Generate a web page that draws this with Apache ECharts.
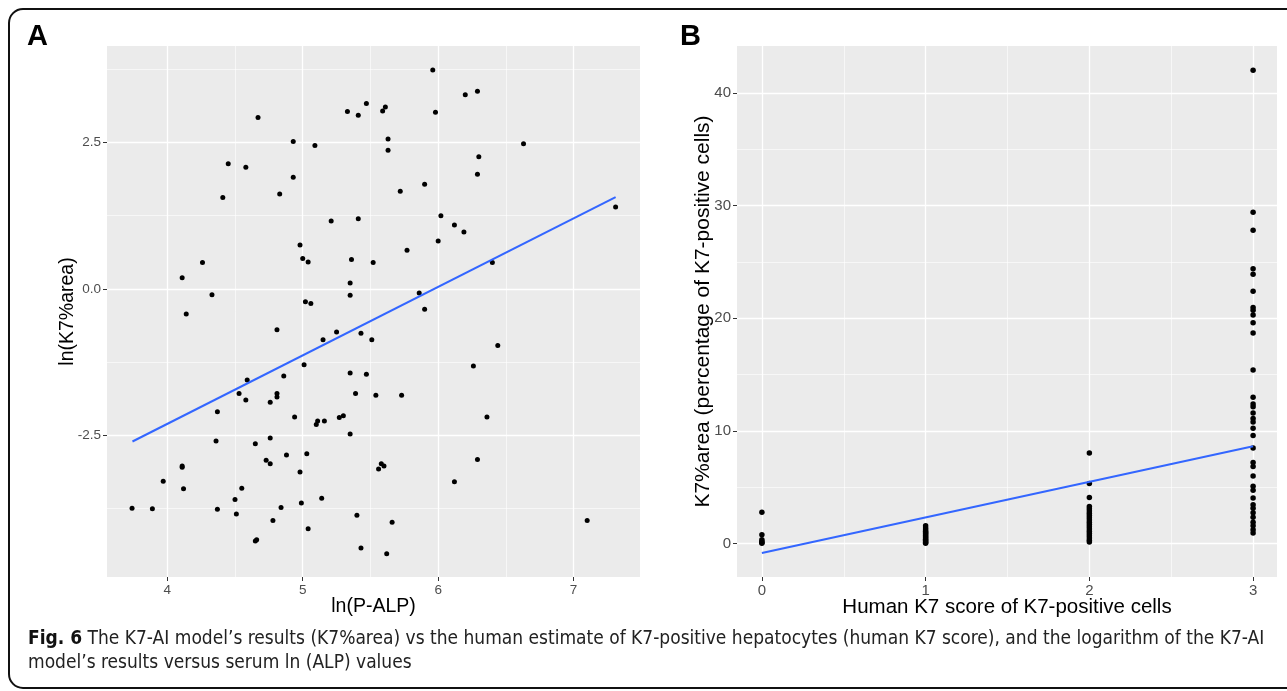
<!DOCTYPE html>
<html>
<head>
<meta charset="utf-8">
<script src="https://cdn.jsdelivr.net/npm/echarts@6.0.0/dist/echarts.min.js"></script>
<style>
  html, body { margin: 0; background: #fff; }
  #chart { width: 1287px; height: 691px; }
</style>
</head>
<body>
<div id="chart"></div>
<script>
  // panel A: ln(P-ALP) vs ln(K7%area)
  const lnAlp = [4.67, 4.93, 5.09, 4.45, 4.58, 4.93, 4.41, 4.83, 5.21, 5.41, 4.98, 5.00, 5.04, 5.36, 5.52, 4.26,
    4.11, 5.35, 4.33, 5.35, 5.02, 5.06, 4.14, 5.33, 5.41, 5.47, 5.59, 5.61, 5.63, 5.63, 5.96, 6.20,
    6.29, 5.98, 6.63, 6.30, 6.29, 5.72, 5.90, 6.02, 6.12, 6.19, 6.00, 5.77, 6.40, 7.31, 5.86, 5.90,
    4.81, 5.25, 5.43, 5.15, 5.51, 5.01, 5.35, 5.47, 4.86, 4.59, 4.53, 5.39, 5.54, 4.81, 4.81, 4.58,
    4.76, 4.37, 4.94, 5.27, 5.30, 5.10, 5.11, 5.16, 5.35, 4.36, 4.76, 4.65, 4.88, 5.03, 4.73, 4.76,
    4.11, 4.11, 4.98, 5.56, 5.58, 5.60, 3.97, 4.55, 4.12, 4.50, 5.14, 4.99, 3.74, 3.89, 4.37, 4.84,
    4.51, 4.78, 5.40, 5.66, 5.04, 4.65, 4.66, 5.43, 5.62, 6.44, 6.26, 5.73, 6.36, 6.29, 6.12, 7.10];
  const lnK7 = [2.93, 2.52, 2.45, 2.14, 2.08, 1.91, 1.56, 1.62, 1.16, 1.20, 0.75, 0.52, 0.46, 0.50, 0.45, 0.45,
    0.19, 0.10, -0.10, -0.11, -0.22, -0.25, -0.43, 3.03, 2.97, 3.17, 3.04, 3.11, 2.56, 2.37, 3.74, 3.32,
    3.38, 3.02, 2.48, 2.26, 1.96, 1.67, 1.79, 1.25, 1.09, 0.97, 0.82, 0.66, 0.45, 1.40, -0.07, -0.35,
    -0.70, -0.74, -0.76, -0.87, -0.87, -1.30, -1.44, -1.46, -1.49, -1.56, -1.79, -1.79, -1.82, -1.79, -1.85, -1.90,
    -1.94, -2.10, -2.19, -2.20, -2.17, -2.32, -2.26, -2.26, -2.48, -2.60, -2.55, -2.65, -2.84, -2.82, -2.93, -2.99,
    -3.03, -3.05, -3.13, -3.08, -2.99, -3.03, -3.29, -3.41, -3.42, -3.60, -3.58, -3.66, -3.75, -3.76, -3.77, -3.74,
    -3.85, -3.96, -3.87, -3.99, -4.10, -4.31, -4.29, -4.43, -4.53, -0.97, -1.32, -1.82, -2.19, -2.92, -3.30, -3.96];
  const fitAx = [3.743, 7.31];
  const fitAy = [-2.61, 1.567];
  const ticksAx = [4, 5, 6, 7];
  const minorAx = [4.5, 5.5, 6.5];
  const ticksAy = [-2.5, 0, 2.5];
  const minorAy = [-3.75, -1.25, 1.25, 3.75];

  // panel B: human K7 score vs K7%area
  const k7Score0 = [2.8, 0.8, 0.35, 0.2, 0.1, 0.05];
  const k7Score1 = [1.6, 1.4, 1.25, 1.1, 1.0, 0.9, 0.8, 0.7, 0.6, 0.5, 0.4, 0.3, 0.2, 0.1, 0.05];
  const k7Score2 = [8.05, 5.35, 4.1, 3.3, 3.1, 2.9, 2.7, 2.5, 2.3, 2.1, 1.9, 1.7, 1.5, 1.3, 1.1, 0.9, 0.7, 0.5, 0.3, 0.15];
  const k7Score3 = [42.0, 29.4, 27.8, 24.4, 23.9, 22.4, 20.95, 20.7, 20.3, 19.6, 18.7, 15.4, 13.0, 12.4, 12.15, 11.6,
    11.1, 10.8, 10.25, 9.6, 8.5, 7.2, 6.85, 6.0, 5.1, 4.75, 4.05, 3.45, 3.15, 2.75, 2.35, 1.9, 1.6, 1.25, 0.95];
  const fitBx = [0, 3];
  const fitBy = [-0.83, 8.65];
  const ticksBx = [0, 1, 2, 3];
  const minorBx = [0.5, 1.5, 2.5];
  const ticksBy = [0, 10, 20, 30, 40];
  const minorBy = [5, 15, 25, 35];

  const font = '"Liberation Sans", Arial, sans-serif';
  const capFont = '"Liberation Sans Narrow", "DejaVu Sans Condensed", "Liberation Sans", sans-serif';

  function majorAxis(gridIndex, min, max, ticks, fmt, name, nameGap, nameSize, labelSize) {
    return {
      type: 'value', gridIndex: gridIndex, min: min, max: max,
      name: name, nameLocation: 'middle', nameGap: nameGap, nameMoveOverlap: false,
      nameTextStyle: {fontFamily: font, fontSize: nameSize, color: '#000'},
      axisLine: {show: false, onZero: false},
      axisTick: {show: true, customValues: ticks, length: 4, lineStyle: {color: '#333', width: 1}},
      axisLabel: {customValues: ticks, formatter: fmt, color: '#4D4D4D', fontFamily: font, fontSize: labelSize, margin: 6},
      splitLine: {show: true, lineStyle: {color: '#fff', width: 1.3}}
    };
  }
  function minorAxis(gridIndex, min, max, ticks) {
    return {
      type: 'value', gridIndex: gridIndex, min: min, max: max,
      axisLine: {show: false, onZero: false},
      axisTick: {show: false, customValues: ticks},
      axisLabel: {show: false},
      splitLine: {show: true, lineStyle: {color: '#fff', width: 0.6}}
    };
  }
  function pairs(xs, ys) {
    return xs.map((x, i) => [x, ys[i]]);
  }
  function column(x, ys) {
    return ys.map(y => [x, y]);
  }

  const fmtA = v => v.toFixed(1);
  const fmtB = v => String(v);

  let myChart = echarts.init(document.getElementById('chart'));
  myChart.setOption({
    animation: false,
    title: [
      {text: 'A', left: 27, top: 22, padding: 0, textStyle: {fontFamily: font, fontWeight: 'bold', fontSize: 29, color: '#000'}},
      {text: 'B', left: 680, top: 22, padding: 0, textStyle: {fontFamily: font, fontWeight: 'bold', fontSize: 29, color: '#000'}},
      {
        text: '{b|Fig. 6} The K7-AI model\u2019s results (K7%area) vs the human estimate of K7-positive hepatocytes (human K7 score), and the logarithm of the K7-AI\nmodel\u2019s results versus serum ln (ALP) values',
        left: 28, top: 627, padding: 0,
        textStyle: {
          fontFamily: capFont, fontSize: 19, fontWeight: 'normal', color: '#222', lineHeight: 24,
          rich: {b: {fontFamily: capFont, fontSize: 19, fontWeight: 'bold', color: '#111', lineHeight: 24}}
        }
      }
    ],
    graphic: [{
      type: 'rect', silent: true,
      shape: {x: 9, y: 9, width: 1300, height: 679, r: 14},
      style: {fill: 'none', stroke: '#111', lineWidth: 2}
    }],
    grid: [
      {left: 107, top: 46, width: 533, height: 531, show: true, backgroundColor: '#EBEBEB', borderWidth: 0, outerBoundsMode: 'none'},
      {left: 737, top: 46, width: 540, height: 531, show: true, backgroundColor: '#EBEBEB', borderWidth: 0, outerBoundsMode: 'none'}
    ],
    xAxis: [
      majorAxis(0, 3.555, 7.49, ticksAx, fmtB, 'ln(P-ALP)', 20, 19.5, 13.5),
      minorAxis(0, 3.555, 7.49, minorAx),
      majorAxis(1, -0.152, 3.146, ticksBx, fmtB, 'Human K7 score of K7-positive cells', 20, 20.5, 15),
      minorAxis(1, -0.152, 3.146, minorBx)
    ],
    yAxis: [
      majorAxis(0, -4.927, 4.152, ticksAy, fmtA, 'ln(K7%area)', 29, 19.5, 13.5),
      minorAxis(0, -4.927, 4.152, minorAy),
      majorAxis(1, -2.95, 44.15, ticksBy, fmtB, 'K7%area (percentage of K7-positive cells)', 23, 21, 15),
      minorAxis(1, -2.95, 44.15, minorBy)
    ],
    series: [
      {
        name: 'ln(K7%area)', type: 'scatter', xAxisIndex: 0, yAxisIndex: 0,
        data: pairs(lnAlp, lnK7), symbolSize: 5, itemStyle: {color: '#000', opacity: 1}
      },
      {
        name: 'fit A', type: 'line', xAxisIndex: 0, yAxisIndex: 0,
        data: pairs(fitAx, fitAy), showSymbol: false, lineStyle: {color: '#3366FF', width: 2}, z: 3
      },
      {
        name: 'K7%area', type: 'scatter', xAxisIndex: 2, yAxisIndex: 2,
        data: [].concat(column(0, k7Score0), column(1, k7Score1), column(2, k7Score2), column(3, k7Score3)),
        symbolSize: 5.5, itemStyle: {color: '#000', opacity: 1}
      },
      {
        name: 'fit B', type: 'line', xAxisIndex: 2, yAxisIndex: 2,
        data: pairs(fitBx, fitBy), showSymbol: false, lineStyle: {color: '#3366FF', width: 2}, z: 3
      }
    ]
  });
</script>
</body>
</html>
